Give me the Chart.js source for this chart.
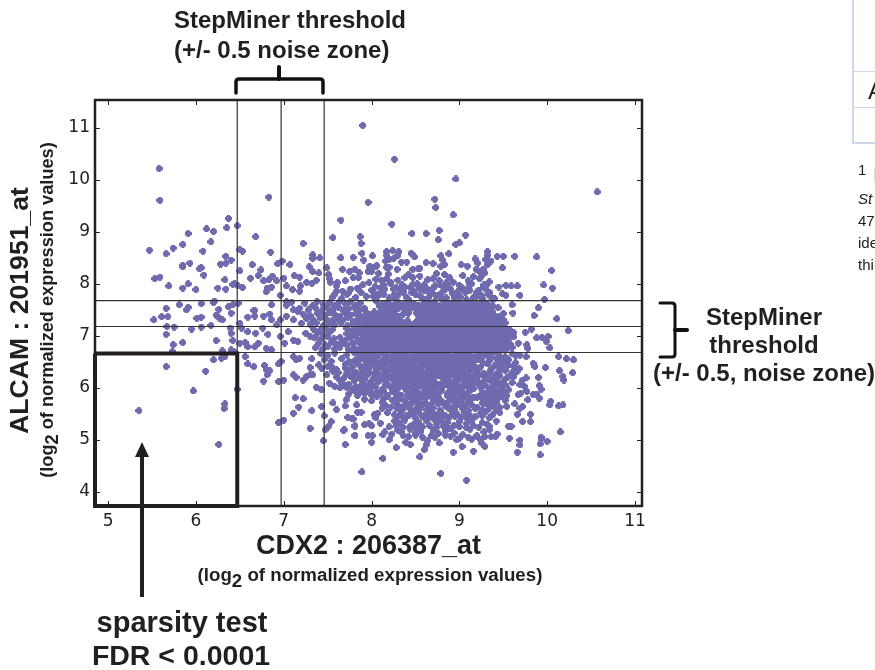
<!DOCTYPE html>
<html>
<head>
<meta charset="utf-8">
<title>CDX2 vs ALCAM</title>
<script src="https://cdn.jsdelivr.net/npm/chart.js@4"></script>
<style>
  html, body { margin: 0; padding: 0; background: #fff; }
  #page { position: relative; width: 875px; height: 670px; overflow: hidden; }
  #plot { position: absolute; left: 0; top: 0; }
  #marks { position: absolute; left: 0; top: 0; }
  .note { position: absolute; font-family: "Liberation Sans", Arial, sans-serif; font-weight: bold; color: #231f20; white-space: nowrap; }
  .rot { transform: rotate(-90deg); text-align: center; }
  .sub2 { position: relative; top: 0.3em; }
  .rule { position: absolute; background: #cfd8e8; }
  .cut { position: absolute; font-family: "Liberation Sans", Arial, sans-serif; color: #222; white-space: nowrap; }
</style>
</head>
<body>
<div id="page">
  <canvas id="plot" width="875" height="670"></canvas>

  <svg id="marks" width="875" height="670">
    <g fill="none" stroke="#111" stroke-linejoin="round" stroke-linecap="round">
      <path d="M236 93 V82 Q236 79 239 79 H320 Q323 79 323 82 V93" stroke-width="3.5"/>
      <path d="M279 79 V67" stroke-width="4"/>
      <path d="M660 303 H672 Q675 303 675 306 V354 Q675 357 672 357 H660" stroke-width="3"/>
      <path d="M675 330 H687" stroke-width="4"/>
    </g>
    <path d="M142 597 V455" stroke="#231f20" stroke-width="4" fill="none"/>
    <path d="M142 442 L149 457 H135 Z" fill="#231f20"/>
  </svg>

  <div class="note" style="left:174px;top:8px;font-size:24px;line-height:24px">StepMiner threshold</div>
  <div class="note" style="left:174px;top:38px;font-size:24px;line-height:24px">(+/- 0.5 noise zone)</div>

  <div class="note" style="left:644px;top:305px;width:240px;text-align:center;font-size:24px;line-height:24px">StepMiner</div>
  <div class="note" style="left:644px;top:333px;width:240px;text-align:center;font-size:24px;line-height:24px">threshold</div>
  <div class="note" style="left:644px;top:361px;width:240px;text-align:center;font-size:24px;line-height:24px">(+/- 0.5, noise zone)</div>

  <div class="note rot" style="left:-131px;top:297px;width:300px;height:27px;font-size:26.6px;line-height:27px">ALCAM : 201951_at</div>
  <div class="note rot" style="left:-153px;top:301px;width:400px;height:18px;font-size:18.2px;line-height:18px">(log<span class="sub2">2</span> of normalized expression values)</div>
  <div class="note" style="left:170px;top:565px;width:400px;text-align:center;font-size:18.7px;line-height:19px">(log<span class="sub2">2</span> of normalized expression values)</div>

  <div class="note" style="left:32px;top:608px;width:300px;text-align:center;font-size:29px;line-height:29px">sparsity test</div>
  <div class="note" style="left:31px;top:641px;width:300px;text-align:center;font-size:28.5px;line-height:29px">FDR &lt; 0.0001</div>

  <!-- cut-off page table and footnote on the right edge -->
  <div class="rule" style="left:852px;top:0;width:2px;height:143px"></div>
  <div class="rule" style="left:852px;top:71px;width:23px;height:1px"></div>
  <div class="rule" style="left:852px;top:107px;width:23px;height:1px"></div>
  <div class="rule" style="left:852px;top:142px;width:23px;height:2px"></div>
  <div class="cut" style="left:868px;top:79px;font-size:24px;line-height:24px">A</div>
  <div class="cut" style="left:858px;top:162px;font-size:15px;line-height:15px">1</div>
  <div class="rule" style="left:874px;top:168px;width:1px;height:14px;background:#ddd"></div>
  <div class="cut" style="left:858px;top:191px;font-size:15px;line-height:15px;font-style:italic">St</div>
  <div class="cut" style="left:858px;top:213px;font-size:15px;line-height:15px">47</div>
  <div class="cut" style="left:858px;top:235px;font-size:15px;line-height:15px">ide</div>
  <div class="cut" style="left:858px;top:257px;font-size:15px;line-height:15px">thi</div>
</div>

<script>
'use strict';

var xTicks = [5, 6, 7, 8, 9, 10, 11];
var yTicks = [4, 5, 6, 7, 8, 9, 10, 11];
var xMin = 4.85, xMax = 11.08;
var yMin = 3.725, yMax = 11.54;

var thresholdCdx2 = [6.47, 6.97, 7.46];
var thresholdAlcam = [7.68, 7.18, 6.68];

var sparsityBoxCdx2 = [4.85, 6.47, 6.47, 4.85, 4.85];
var sparsityBoxAlcam = [6.66, 6.66, 3.725, 3.725, 6.66];

// points that can be told apart in the picture
var outlierCdx2 = [
  7.90,5.58,5.59,6.83,7.96,6.37,7.65,6.47,6.35,6.12,
  6.20,5.91,6.68,7.56,7.87,6.17,7.88,7.22,5.85,5.74,
  5.47,6.50,6.53,6.08,6.85,5.66,7.89,7.33,8.01,6.34,
  7.91,7.41,7.33,7.65,7.79,6.40,6.34,6.28,5.93,5.85,
  5.85,6.64,6.98,6.93,7.07,7.29,7.49,6.04,6.06,6.74,
  6.50,6.09,7.33,7.40,7.67,7.75,7.81,8.00,8.00,8.06,
  5.59,5.53,6.62,6.33,6.71,6.77,6.83,6.87,7.00,6.92,
  7.12,7.18,7.03,5.69,5.91,6.42,6.44,6.48,6.53,5.85,
  6.00,6.25,6.34,6.81,6.86,6.80,7.10,6.96,7.19,7.18,
  7.26,7.32,7.37,7.51,7.52,7.53,7.60,7.61,7.67,7.76,
  7.86,7.85,7.85,8.26,8.96,10.57,8.72,8.73,8.93,8.23,
  8.46,8.62,8.77,8.76,9.07,8.96,9.00,8.88,8.17,8.17,
  8.24,8.31,8.30,8.25,8.45,8.49,8.16,8.20,8.34,8.40,
  8.62,8.70,8.79,8.81,8.83,8.79,7.98,7.96,8.05,7.98,
  8.17,8.20,8.29,8.47,8.55,8.53,9.02,9.09,9.18,9.21,
  9.32,9.32,9.30,9.36,9.32,9.43,9.50,9.63,9.88,9.49,
  10.05,9.19,9.23,9.27,9.29,9.25,9.23,9.96,10.06,9.53,
  9.59,9.66,9.45,9.69,9.49,9.53,9.97,9.38,9.60,9.90,
  9.85,10.11,9.61,9.50,10.24,9.82,9.75,9.88,9.94,10.01,
  9.99,10.03,9.78,9.77,9.67,10.13,10.22,10.30,10.29,10.14,
  10.18,10.19,9.98,9.90,9.91,9.84,9.86,9.68,9.76,9.69,
  10.03,10.04,10.13,10.18,10.15,9.93,9.91,9.88,9.84,9.76,
  9.72,9.69,9.74,9.70,9.77,9.78,9.67,9.81,9.81,9.72,
  9.66,9.72,9.63,9.69,9.59,9.56,9.57,9.93,10.00,9.92,
  9.93,9.92,9.69,9.69,9.66,9.08,8.79,7.89,8.13,8.55,
  8.93,9.16,8.28,8.39,8.44,8.60,8.62,8.64,8.77,9.03,
  9.00,8.97,9.14,9.20,9.29,9.29,9.25,9.24,9.41,9.43,
  9.34,7.81,7.96,8.01,8.00,8.13,8.15,8.20,8.23,7.92,
  7.97,8.00,7.81,7.78,8.10,7.84,7.88,7.83,8.03,8.07,
  8.05,8.12,5.52,5.61,5.68,5.66,5.81,5.89,5.91,6.06,
  6.20,6.26,6.40,6.37,6.42,6.48,6.01,6.06,5.67,5.75,
  5.95,6.06,6.17,5.66,6.23,6.27,6.30,6.39,6.40,6.42,
  6.23,5.85,5.74,5.73,6.30,6.40,6.43,5.66,6.20,6.29,
  6.33,6.11,5.97,6.47,6.33,6.32,5.35,6.26,6.50,6.52,
  6.59,6.66,6.67,6.59,6.68,6.77,6.84,6.76,6.82,6.86,
  6.92,6.96,7.03,7.11,7.18,7.03,6.50,6.56,6.59,6.67,
  6.71,6.80,6.86,6.96,7.01,7.05,7.11,7.16,7.25,7.30,
  7.20,7.11,6.56,6.59,6.66,6.78,6.80,6.84,6.81,6.77,
  6.94,6.97,6.94,7.00,7.11,7.14,7.18,7.11,7.14,7.22,
  7.26,7.30,7.33,7.30,7.32,7.37,7.43,7.13,7.22,7.17,
  7.11,7.32,7.43,6.94,7.00,7.30,7.46,7.45,7.70,7.47,
  7.51,7.54,7.69,7.81,7.73,7.79,7.81,7.68,7.54,7.60,
  7.52,7.58,7.64,7.56,7.60,7.70,7.71,7.49,7.43,6.21,
  6.86,6.67,7.03,7.09,7.16
];
var outlierAlcam = [
  11.05,10.22,9.61,9.67,9.57,9.26,9.23,9.12,9.08,9.06,
  9.01,8.97,8.91,8.89,8.91,8.81,8.78,8.78,8.76,8.69,
  8.65,8.66,8.63,8.63,8.61,8.58,8.59,8.56,8.54,8.53,
  8.46,8.50,8.49,8.50,8.51,8.46,8.40,8.38,8.40,8.36,
  8.33,8.37,8.44,8.39,8.37,8.33,8.31,8.29,8.31,8.27,
  8.25,8.17,8.24,8.21,8.28,8.24,8.28,8.31,8.24,8.35,
  8.13,8.10,8.11,8.08,8.16,8.06,8.08,8.15,8.11,8.06,
  8.16,8.13,7.96,7.96,8.00,7.99,8.00,7.96,7.93,7.92,
  7.89,7.92,7.90,7.92,7.94,7.85,7.89,7.78,7.96,7.86,
  8.03,8.01,8.07,8.18,8.10,8.03,7.96,8.03,7.86,7.90,
  8.21,8.12,7.89,10.40,10.02,9.77,9.63,9.47,9.33,9.15,
  8.97,8.97,9.03,8.85,8.94,8.76,8.79,8.58,8.62,8.55,
  8.64,8.62,8.55,8.49,8.59,8.52,8.44,8.47,8.42,8.42,
  8.41,8.39,8.54,8.46,8.37,8.34,8.34,8.24,8.34,8.28,
  8.32,8.32,8.28,8.28,8.30,8.29,8.37,8.34,8.48,8.40,
  8.62,8.55,8.47,8.44,8.37,8.53,8.53,8.53,8.52,8.31,
  8.26,8.28,8.24,8.28,8.21,8.15,8.10,7.98,7.92,7.97,
  7.96,7.96,7.94,7.78,7.81,7.78,7.70,7.70,7.60,7.54,
  7.39,7.33,7.44,7.43,7.10,7.13,7.07,6.96,6.97,6.99,
  6.89,6.77,6.76,6.83,6.86,6.60,6.56,6.54,6.29,6.33,
  6.22,6.15,6.39,6.20,6.04,6.47,6.41,6.37,6.60,6.63,
  5.67,5.74,5.65,5.67,5.15,5.97,5.80,5.88,5.87,6.19,
  6.15,6.06,6.03,5.90,5.93,5.77,5.87,5.49,5.35,5.35,
  5.49,5.64,5.69,5.61,5.26,5.26,5.03,5.01,4.97,4.92,
  5.05,4.71,4.99,4.90,4.76,4.22,4.35,4.38,4.64,4.67,
  4.76,4.78,4.85,4.95,4.91,4.81,4.90,4.98,4.94,4.87,
  5.03,5.00,5.01,5.06,5.06,4.87,4.94,5.00,5.06,5.11,
  5.19,5.08,5.08,5.08,4.95,5.10,5.15,5.00,5.11,5.29,
  5.31,5.27,5.26,5.40,5.32,5.53,5.53,5.67,5.48,5.51,
  5.42,5.61,7.31,7.37,7.37,7.53,7.60,7.50,7.55,7.62,
  7.64,7.51,7.44,7.56,7.60,7.63,7.34,7.36,7.18,7.17,
  7.13,7.17,7.20,7.03,7.40,7.34,7.31,7.15,7.05,6.91,
  6.91,6.87,6.83,6.70,6.71,6.73,6.70,6.41,6.54,6.57,
  6.60,6.32,5.94,5.97,5.69,5.60,5.56,4.91,7.24,7.15,
  7.36,7.49,7.38,7.08,7.05,7.38,7.42,7.15,7.03,7.31,
  7.21,7.31,7.38,7.50,7.53,7.66,6.86,6.87,6.79,6.79,
  6.86,6.76,6.73,6.99,6.86,7.08,6.92,6.89,7.05,6.99,
  7.24,7.31,6.60,6.46,6.41,6.43,6.35,6.33,6.25,6.13,
  6.46,6.51,6.12,6.15,6.60,6.54,6.57,6.25,6.20,6.15,
  6.22,6.25,6.25,6.39,6.56,6.01,5.96,5.81,5.79,5.63,
  5.51,5.56,5.64,5.33,5.38,5.22,5.46,4.98,4.91,5.19,
  5.26,5.35,5.19,5.27,5.43,5.40,5.08,5.18,6.41,6.35,
  6.09,6.03,6.00,5.71,5.58,5.65,5.77,6.25,6.38,7.67,
  7.60,7.49,7.59,7.65,7.47
];

// dense cloud, estimated band by band from top to bottom
var upperCdx2 = [
  8.05,8.11,8.17,8.22,8.30,8.38,8.47,8.64,8.70,8.77,8.89,8.93,9.10,9.14,9.31,8.08,8.19,8.42,8.55,8.74,8.83,9.04,9.16,9.34,7.70,7.79,
  7.55,7.60,7.66,7.72,7.76,7.82,7.88,7.94,8.00,8.06,8.10,8.14,8.20,8.25,8.30,8.36,8.40,8.44,8.50,8.56,8.60,8.65,8.70,8.76,8.80,8.85,8.90,8.96,9.01,9.05,9.10,9.16,9.20,9.25,9.30,9.36,9.40,
  7.58,7.74,7.84,8.03,8.12,8.26,8.33,8.46,8.53,8.68,8.82,8.92,9.07,9.21,9.27,9.34,8.14,8.35,8.52,8.60,8.72,8.85,9.00,9.12,
  8.02,8.09,8.27,8.33,8.42,8.48,8.58,8.66,8.73,8.80,8.87,8.94,9.02,9.08,9.18,9.26,9.33,7.90,7.97,8.04,8.15,8.22,8.28,8.38,8.47,8.55,8.62,8.68,8.78,8.84,8.98,9.03,9.12,9.22,9.28
];
var upperAlcam = [
  8.09,8.07,8.10,8.03,8.07,8.12,8.12,8.08,8.10,8.06,8.12,8.03,8.06,8.00,7.98,8.20,8.19,8.18,8.15,8.20,8.18,8.16,8.14,8.04,8.06,8.12,
  7.74,7.86,7.72,7.80,7.90,7.74,7.83,7.76,7.88,7.75,7.92,7.80,7.73,7.90,7.78,7.84,7.74,7.93,7.80,7.76,7.87,7.74,7.92,7.78,7.83,7.73,7.90,7.80,7.75,7.88,7.92,7.74,7.84,7.78,7.90,7.75,7.72,
  7.80,7.83,7.92,7.83,7.86,7.80,7.92,7.83,7.96,7.84,7.94,7.82,7.84,7.84,7.95,7.84,7.98,7.98,8.00,7.98,7.96,8.02,7.97,8.00,
  7.76,7.79,7.72,7.86,7.70,7.86,7.72,7.83,7.78,7.72,7.96,7.74,7.94,7.70,7.74,7.72,7.80,7.98,8.02,7.95,7.90,8.00,7.93,7.94,7.99,7.90,7.92,7.88,7.98,7.90,7.85,7.91,7.88,7.88,7.98
];

var row76Cdx2 = [7.24,7.33,7.38,7.45,7.52,7.58,7.63,7.70,7.76,7.82,7.87,8.06,8.12,8.18,8.24,8.30,8.36,8.42,8.48,8.54,8.60,8.66,8.72,8.78,8.84,8.90,8.96,9.02,9.08,9.14,9.20,9.26,9.32,9.38];
var row76Alcam = [7.63,7.58,7.66,7.60,7.64,7.58,7.65,7.61,7.66,7.59,7.63,7.66,7.60,7.64,7.58,7.65,7.60,7.66,7.62,7.58,7.65,7.60,7.66,7.58,7.64,7.60,7.66,7.62,7.58,7.64,7.60,7.66,7.61,7.58];

var row75Cdx2 = [7.28,7.36,7.43,7.50,7.56,7.62,7.68,7.74,7.80,7.86,7.92,8.12,8.18,8.24,8.30,8.36,8.42,8.48,8.54,8.60,8.66,8.72,8.78,8.84,8.90,8.96,9.02,9.08,9.14,9.20,9.26,9.32,9.38,9.44];
var row75Alcam = [7.50,7.54,7.48,7.53,7.50,7.55,7.48,7.52,7.55,7.49,7.53,7.50,7.55,7.48,7.52,7.54,7.49,7.55,7.50,7.47,7.53,7.50,7.55,7.49,7.52,7.47,7.54,7.50,7.55,7.48,7.53,7.50,7.46,7.54];

var row74Cdx2 = [7.22,7.30,7.38,7.46,7.52,7.58,7.64,7.70,7.76,7.82,7.88,7.94,8.00,8.06,8.12,8.18,8.24,8.30,8.36,8.42,8.54,8.60,8.66,8.72,8.78,8.84,8.90,8.96,9.02,9.08,9.14,9.20,9.26,9.32,9.38,9.44];
var row74Alcam = [7.42,7.39,7.44,7.40,7.45,7.41,7.38,7.44,7.40,7.43,7.38,7.45,7.41,7.39,7.44,7.40,7.45,7.38,7.42,7.44,7.39,7.45,7.41,7.38,7.44,7.40,7.43,7.38,7.45,7.41,7.44,7.39,7.42,7.45,7.40,7.38];

var row73Cdx2 = [7.26,7.34,7.42,7.49,7.55,7.61,7.67,7.73,7.79,7.85,7.91,7.97,8.03,8.09,8.15,8.21,8.27,8.33,8.54,8.60,8.66,8.72,8.78,8.84,8.90,8.96,9.02,9.08,9.14,9.20,9.26,9.32,9.38,9.44,9.50];
var row73Alcam = [7.33,7.30,7.35,7.31,7.29,7.34,7.30,7.35,7.28,7.33,7.30,7.35,7.31,7.28,7.34,7.30,7.35,7.29,7.32,7.35,7.30,7.28,7.34,7.31,7.35,7.29,7.33,7.30,7.35,7.28,7.32,7.34,7.30,7.35,7.31];

var row72Cdx2 = [7.30,7.37,7.45,7.52,7.58,7.65,7.72,7.78,7.84,7.90,7.96,8.02,8.08,8.14,8.20,8.26,8.32,8.38,8.44,8.50,8.56,8.62,8.68,8.74,8.80,8.86,8.92,8.98,9.04,9.10,9.16,9.22,9.28,9.34,9.40,9.46,9.52];
var row72Alcam = [7.22,7.25,7.20,7.24,7.21,7.25,7.19,7.23,7.26,7.20,7.24,7.21,7.26,7.19,7.23,7.25,7.20,7.24,7.21,7.26,7.19,7.23,7.25,7.20,7.24,7.21,7.26,7.19,7.23,7.25,7.20,7.24,7.21,7.26,7.19,7.23,7.25];

var row71Cdx2 = [7.34,7.41,7.48,7.55,7.72,7.78,7.84,7.90,7.96,8.02,8.08,8.14,8.20,8.26,8.32,8.38,8.44,8.50,8.56,8.62,8.68,8.74,8.80,8.86,8.92,8.98,9.04,9.10,9.16,9.22,9.28,9.34,9.40,9.46,9.52,9.57];
var row71Alcam = [7.13,7.10,7.15,7.12,7.14,7.10,7.16,7.12,7.09,7.15,7.11,7.14,7.10,7.16,7.12,7.09,7.15,7.11,7.14,7.10,7.16,7.12,7.09,7.15,7.11,7.14,7.10,7.16,7.12,7.09,7.15,7.11,7.14,7.10,7.16,7.12];

var row70Cdx2 = [7.38,7.45,7.52,7.72,7.78,7.84,7.90,7.96,8.02,8.08,8.14,8.20,8.26,8.32,8.38,8.44,8.50,8.56,8.62,8.68,8.74,8.80,8.86,8.92,8.98,9.04,9.10,9.16,9.22,9.28,9.34,9.40,9.46,9.52,9.58,9.62];
var row70Alcam = [7.05,7.02,7.07,7.04,7.01,7.06,7.03,7.07,7.02,7.05,7.01,7.06,7.03,7.07,7.02,7.05,7.01,7.06,7.03,7.07,7.02,7.05,7.01,7.06,7.03,7.07,7.02,7.05,7.01,7.06,7.03,7.07,7.02,7.05,7.01,7.06];

var row69Cdx2 = [7.35,7.42,7.50,7.57,7.64,7.70,7.76,7.82,7.88,7.94,8.00,8.06,8.12,8.18,8.24,8.30,8.36,8.42,8.48,8.54,8.60,8.66,8.72,8.78,8.84,8.90,8.96,9.02,9.08,9.14,9.20,9.26,9.32,9.38,9.44,9.50,9.56,9.62];
var row69Alcam = [6.96,6.93,6.98,6.94,6.97,6.92,6.96,6.99,6.93,6.97,6.94,6.98,6.92,6.96,6.93,6.99,6.94,6.97,6.92,6.96,6.98,6.93,6.97,6.94,6.99,6.92,6.96,6.93,6.98,6.94,6.97,6.92,6.96,6.99,6.93,6.97,6.94,6.98];

var row68Cdx2 = [7.40,7.47,7.54,7.60,7.66,7.72,7.78,7.84,7.90,7.96,8.02,8.08,8.14,8.20,8.26,8.32,8.38,8.44,8.50,8.56,8.62,8.68,8.74,8.80,8.86,8.92,8.98,9.04,9.10,9.16,9.22,9.28,9.34,9.40,9.46,9.52,9.58];
var row68Alcam = [6.86,6.83,6.88,6.84,6.87,6.82,6.86,6.89,6.83,6.87,6.84,6.88,6.82,6.86,6.83,6.89,6.84,6.87,6.82,6.86,6.88,6.83,6.87,6.84,6.89,6.82,6.86,6.83,6.88,6.84,6.87,6.82,6.86,6.89,6.83,6.87,6.84];

var row67Cdx2 = [7.36,7.44,7.50,7.58,7.64,7.74,7.80,7.86,7.92,7.98,8.04,8.10,8.16,8.22,8.28,8.34,8.40,8.46,8.52,8.58,8.64,8.70,8.76,8.82,8.88,8.94,9.00,9.06,9.12,9.18,9.24,9.30,9.36,9.42,9.48,9.54,9.60];
var row67Alcam = [6.77,6.74,6.79,6.75,6.78,6.73,6.77,6.74,6.79,6.75,6.78,6.73,6.77,6.80,6.74,6.78,6.75,6.79,6.73,6.77,6.74,6.80,6.75,6.78,6.73,6.77,6.79,6.74,6.78,6.75,6.80,6.73,6.77,6.74,6.79,6.75,6.78];

var row66Cdx2 = [7.42,7.50,7.58,7.72,7.80,7.86,7.92,7.98,8.04,8.10,8.16,8.22,8.28,8.34,8.40,8.46,8.52,8.58,8.64,8.70,8.76,8.82,8.88,8.94,9.00,9.06,9.12,9.18,9.24,9.32,9.38,9.44,9.52,9.60,9.64];
var row66Alcam = [6.66,6.62,6.67,6.63,6.68,6.64,6.60,6.66,6.62,6.68,6.64,6.60,6.67,6.63,6.68,6.61,6.65,6.69,6.62,6.66,6.60,6.68,6.64,6.61,6.67,6.63,6.68,6.60,6.65,6.62,6.68,6.64,6.60,6.66,6.62];

var row65Cdx2 = [7.46,7.54,7.66,7.74,7.82,7.88,7.94,8.00,8.06,8.14,8.20,8.26,8.32,8.38,8.44,8.50,8.56,8.62,8.68,8.74,8.80,8.86,8.92,8.98,9.04,9.10,9.16,9.22,9.34,9.42,9.50,9.56,9.64];
var row65Alcam = [6.54,6.51,6.56,6.50,6.54,6.57,6.51,6.55,6.50,6.56,6.52,6.57,6.50,6.55,6.51,6.56,6.53,6.50,6.57,6.52,6.55,6.50,6.56,6.51,6.57,6.53,6.50,6.55,6.52,6.56,6.50,6.54,6.48];

var row64Cdx2 = [7.40,7.50,7.70,7.78,7.86,7.92,8.00,8.08,8.14,8.22,8.28,8.34,8.42,8.48,8.54,8.60,8.66,8.72,8.78,8.84,8.90,8.96,9.02,9.08,9.14,9.24,9.32,9.40,9.48,9.56,9.62];
var row64Alcam = [6.44,6.41,6.45,6.40,6.44,6.41,6.46,6.42,6.45,6.40,6.44,6.41,6.46,6.42,6.39,6.45,6.41,6.44,6.40,6.46,6.42,6.39,6.45,6.41,6.44,6.40,6.46,6.42,6.39,6.44,6.41];

var row63Cdx2 = [7.56,7.62,7.74,7.82,7.90,7.98,8.06,8.16,8.24,8.30,8.36,8.44,8.50,8.56,8.62,8.68,8.74,8.80,8.86,8.92,8.98,9.04,9.10,9.20,9.28,9.36,9.44,9.52,9.60,9.66];
var row63Alcam = [6.32,6.29,6.33,6.30,6.34,6.29,6.33,6.30,6.35,6.31,6.28,6.34,6.30,6.33,6.29,6.35,6.31,6.28,6.34,6.30,6.33,6.29,6.35,6.31,6.28,6.34,6.30,6.33,6.29,6.32];

var row62Cdx2 = [7.60,7.68,7.76,7.86,7.94,8.02,8.12,8.20,8.28,8.36,8.42,8.50,8.56,8.62,8.68,8.74,8.80,8.86,8.94,9.00,9.08,9.14,9.22,9.30,9.38,9.46,9.54,9.62];
var row62Alcam = [6.21,6.18,6.22,6.19,6.23,6.18,6.22,6.19,6.24,6.20,6.17,6.23,6.19,6.22,6.18,6.24,6.20,6.17,6.23,6.19,6.22,6.18,6.24,6.20,6.17,6.23,6.19,6.22];

var row61Cdx2 = [7.66,7.74,7.90,7.98,8.08,8.18,8.26,8.32,8.40,8.46,8.54,8.60,8.66,8.72,8.78,8.84,8.92,8.98,9.06,9.12,9.18,9.26,9.36,9.44,9.52,9.60];
var row61Alcam = [6.10,6.07,6.11,6.08,6.12,6.07,6.11,6.08,6.13,6.09,6.06,6.12,6.08,6.11,6.07,6.13,6.09,6.06,6.12,6.08,6.11,6.07,6.13,6.09,6.06,6.10];

var row60Cdx2 = [7.72,7.78,7.86,7.94,8.04,8.12,8.22,8.30,8.36,8.44,8.50,8.58,8.64,8.72,8.80,8.88,8.94,9.02,9.10,9.16,9.24,9.34,9.40,9.48,9.56];
var row60Alcam = [6.00,5.97,6.01,5.98,6.02,5.97,6.01,5.98,6.03,5.99,5.96,6.02,5.98,6.01,5.97,6.03,5.99,5.96,6.02,5.98,6.01,5.97,6.03,5.99,5.96];

var row59Cdx2 = [7.74,7.84,7.92,8.00,8.10,8.18,8.28,8.34,8.42,8.48,8.56,8.66,8.74,8.86,8.92,9.00,9.08,9.22,9.30,9.38,9.46,9.54];
var row59Alcam = [5.88,5.85,5.89,5.86,5.90,5.85,5.89,5.86,5.91,5.87,5.84,5.90,5.86,5.89,5.85,5.91,5.87,5.84,5.90,5.86,5.89,5.85];

var row58Cdx2 = [7.92,8.00,8.14,8.24,8.32,8.38,8.46,8.54,8.62,8.70,8.80,8.90,8.96,9.04,9.12,9.20,9.28,9.36,9.44,9.52];
var row58Alcam = [5.78,5.75,5.79,5.76,5.80,5.75,5.79,5.76,5.81,5.77,5.74,5.80,5.76,5.79,5.75,5.81,5.77,5.74,5.80,5.76];

var row57Cdx2 = [8.16,8.22,8.30,8.36,8.44,8.52,8.58,8.66,8.76,8.84,8.92,8.98,9.06,9.14,9.20,9.30,9.38,9.46,9.54];
var row57Alcam = [5.66,5.63,5.67,5.64,5.68,5.63,5.67,5.64,5.69,5.65,5.62,5.68,5.64,5.67,5.63,5.69,5.65,5.62,5.64];

var row55Cdx2 = [8.18,8.26,8.34,8.40,8.46,8.54,8.60,8.66,8.72,8.78,8.84,8.92,8.98,9.06,9.12,9.24,9.30,9.38,9.46];
var row55Alcam = [5.52,5.48,5.54,5.46,5.50,5.53,5.47,5.52,5.49,5.54,5.46,5.51,5.48,5.53,5.47,5.51,5.54,5.48,5.52];

var row53Cdx2 = [8.26,8.32,8.38,8.48,8.54,8.62,8.74,8.80,8.86,8.94,9.00,9.08,9.14,9.26,9.32,9.42];
var row53Alcam = [5.36,5.32,5.38,5.30,5.34,5.37,5.31,5.36,5.33,5.28,5.35,5.31,5.37,5.33,5.29,5.36];

var row51Cdx2 = [8.30,8.34,8.44,8.50,8.56,8.70,8.76,8.84,8.88,8.94,9.12,9.28];
var row51Alcam = [5.18,5.14,5.20,5.12,5.16,5.18,5.12,5.17,5.22,5.13,5.20,5.15];

// points between the rows above, where the cloud is nearly solid
var core1Cdx2 = [8.09,8.15,8.21,8.27,8.33,8.39,8.45,8.51,8.57,8.63,8.69,8.75,8.81,8.87,8.93,8.99,9.05,9.11,9.17,9.23,9.29,9.35,
                 8.03,8.09,8.15,8.21,8.27,8.39,8.51,8.57,8.63,8.69,8.75,8.81,8.87,8.93,8.99,9.05,9.11,9.17,9.23,9.29,9.35];
var core1Alcam = [7.57,7.55,7.59,7.56,7.58,7.55,7.57,7.59,7.56,7.54,7.58,7.56,7.54,7.59,7.56,7.58,7.55,7.57,7.54,7.58,7.56,7.55,
                  7.46,7.44,7.47,7.45,7.49,7.45,7.44,7.47,7.49,7.45,7.47,7.44,7.48,7.46,7.49,7.45,7.47,7.44,7.48,7.46,7.49];
var core2Cdx2 = [7.94,8.00,8.06,8.12,8.18,8.24,8.30,8.57,8.63,8.69,8.75,8.81,8.87,8.93,8.99,9.05,9.11,9.17,9.23,9.29,9.35,9.41,
                 7.93,7.99,8.05,8.11,8.17,8.23,8.29,8.35,8.41,8.59,8.65,8.71,8.77,8.83,8.89,8.95,9.01,9.07,9.13,9.19,9.25,9.31,9.37,9.43];
var core2Alcam = [7.36,7.39,7.35,7.37,7.39,7.36,7.38,7.36,7.39,7.35,7.38,7.36,7.39,7.37,7.35,7.38,7.36,7.39,7.35,7.37,7.39,7.36,
                  7.30,7.27,7.29,7.26,7.28,7.30,7.27,7.26,7.29,7.29,7.26,7.28,7.30,7.27,7.29,7.26,7.28,7.30,7.27,7.29,7.26,7.28,7.30,7.27];
var core3Cdx2 = [7.93,7.99,8.05,8.11,8.17,8.23,8.29,8.35,8.41,8.47,8.53,8.59,8.65,8.71,8.77,8.83,8.89,8.95,9.01,9.07,9.13,9.19,9.25,9.31,9.37,9.43,9.49,
                 7.93,7.99,8.05,8.11,8.17,8.23,8.29,8.35,8.41,8.47,8.53,8.59,8.65,8.71,8.77,8.83,8.89,8.95,9.01,9.07,9.13,9.19,9.25,9.31,9.37,9.43,9.49];
var core3Alcam = [7.17,7.15,7.19,7.16,7.18,7.20,7.17,7.15,7.19,7.16,7.18,7.20,7.17,7.15,7.19,7.16,7.18,7.20,7.17,7.15,7.19,7.16,7.18,7.20,7.17,7.15,7.19,
                  7.07,7.10,7.06,7.09,7.07,7.10,7.06,7.08,7.09,7.07,7.10,7.06,7.08,7.09,7.07,7.10,7.06,7.08,7.09,7.07,7.10,7.06,7.08,7.09,7.07,7.10,7.06];
var core4Cdx2 = [7.93,7.99,8.05,8.11,8.17,8.23,8.29,8.35,8.41,8.47,8.53,8.59,8.65,8.71,8.77,8.83,8.89,8.95,9.01,9.07,9.13,9.19,9.25,9.31,9.37,9.43,9.49,
                 7.91,7.97,8.03,8.09,8.15,8.21,8.27,8.33,8.39,8.45,8.51,8.57,8.63,8.69,8.75,8.81,8.87,8.93,8.99,9.05,9.11,9.17,9.23,9.29,9.35,9.41,9.47];
var core4Alcam = [6.99,7.02,6.98,7.00,7.02,6.99,7.01,6.98,7.02,7.00,6.98,7.01,6.99,7.02,6.98,7.00,7.02,6.99,7.01,6.98,7.02,7.00,6.98,7.01,6.99,7.02,6.98,
                  6.90,6.93,6.89,6.91,6.93,6.90,6.92,6.89,6.93,6.91,6.89,6.92,6.90,6.93,6.89,6.91,6.93,6.90,6.92,6.89,6.93,6.91,6.89,6.92,6.90,6.93,6.89];
var core5Cdx2 = [7.89,7.95,8.01,8.07,8.13,8.19,8.25,8.31,8.37,8.43,8.49,8.55,8.61,8.67,8.73,8.79,8.85,8.91,8.97,9.03,9.09,9.15,9.21,9.27,9.33,9.39,9.45,
                 7.89,7.95,8.01,8.07,8.13,8.19,8.25,8.31,8.37,8.43,8.49,8.55,8.61,8.67,8.73,8.79,8.85,8.91,8.97,9.03,9.09,9.15,9.21,9.27,9.35,9.41,9.49];
var core5Alcam = [6.80,6.83,6.79,6.81,6.83,6.80,6.82,6.79,6.83,6.81,6.79,6.82,6.80,6.83,6.79,6.81,6.83,6.80,6.82,6.79,6.83,6.81,6.79,6.82,6.80,6.83,6.79,
                  6.72,6.70,6.73,6.69,6.71,6.73,6.70,6.72,6.69,6.73,6.71,6.69,6.72,6.70,6.73,6.69,6.71,6.73,6.70,6.72,6.69,6.73,6.71,6.69,6.72,6.70,6.73];
var core6Cdx2 = [7.89,7.95,8.01,8.07,8.17,8.23,8.29,8.35,8.41,8.47,8.53,8.59,8.65,8.71,8.77,8.83,8.89,8.95,9.01,9.07,9.13,9.19,9.27,9.35,9.47,
                 7.76,7.84,7.97,8.03,8.11,8.17,8.23,8.29,8.35,8.41,8.47,8.53,8.59,8.65,8.71,8.77,8.83,8.89,8.95,9.01,9.07,9.13,9.27,9.45,9.53];
var core6Alcam = [6.57,6.60,6.58,6.61,6.57,6.59,6.61,6.58,6.60,6.57,6.61,6.59,6.57,6.60,6.58,6.61,6.57,6.59,6.61,6.58,6.60,6.57,6.61,6.59,6.57,
                  6.49,6.47,6.50,6.48,6.49,6.47,6.50,6.48,6.46,6.49,6.47,6.50,6.48,6.46,6.49,6.47,6.50,6.48,6.46,6.49,6.47,6.50,6.48,6.46,6.49];

// lower half of the cloud, less solid
var lower1Cdx2 = [7.70,7.88,7.96,8.04,8.12,8.20,8.27,8.33,8.39,8.45,8.51,8.57,8.65,8.71,8.77,8.83,8.89,8.95,9.01,9.07,9.13,9.19,9.37,9.45,9.53,
                  7.72,7.80,7.90,8.04,8.10,8.16,8.24,8.32,8.40,8.46,8.53,8.59,8.65,8.71,8.77,8.83,8.90,8.97,9.05,9.11,9.18,9.26,9.34,9.42,9.58];
var lower1Alcam = [6.38,6.39,6.37,6.40,6.38,6.36,6.39,6.37,6.40,6.38,6.36,6.39,6.37,6.40,6.38,6.36,6.39,6.37,6.40,6.38,6.36,6.39,6.37,6.40,6.38,
                   6.27,6.25,6.28,6.26,6.24,6.27,6.25,6.28,6.26,6.24,6.27,6.25,6.28,6.26,6.24,6.27,6.25,6.28,6.26,6.24,6.27,6.25,6.28,6.26,6.24];
var lower2Cdx2 = [7.64,7.80,7.92,8.00,8.08,8.16,8.24,8.32,8.38,8.46,8.52,8.59,8.65,8.71,8.83,8.89,8.97,9.04,9.12,9.20,9.28,9.34,9.42,9.50,
                  7.70,7.82,7.90,8.00,8.16,8.26,8.34,8.40,8.48,8.54,8.60,8.68,8.76,8.84,8.90,8.98,9.06,9.14,9.22,9.30,9.38,9.46];
var lower2Alcam = [6.15,6.14,6.16,6.13,6.15,6.13,6.16,6.14,6.12,6.15,6.13,6.16,6.14,6.12,6.15,6.13,6.16,6.14,6.12,6.15,6.13,6.16,6.14,6.12,
                   6.05,6.03,6.06,6.04,6.06,6.03,6.05,6.02,6.06,6.04,6.02,6.05,6.03,6.06,6.04,6.02,6.05,6.03,6.06,6.04,6.02,6.05];
var lower3Cdx2 = [7.80,7.88,7.98,8.06,8.14,8.24,8.40,8.52,8.60,8.70,8.78,8.90,8.98,9.04,9.12,9.26,9.34,9.42,9.50,
                  8.06,8.18,8.28,8.42,8.50,8.60,8.68,8.76,8.86,8.94,9.02,9.10,9.16,9.24,9.32,9.40,9.48,
                  8.12,8.26,8.40,8.48,8.54,8.62,8.70,8.80,8.88,8.96,9.02,9.10,9.26,9.34,9.42];
var lower3Alcam = [5.94,5.93,5.95,5.92,5.94,5.92,5.95,5.93,5.91,5.94,5.92,5.95,5.93,5.91,5.94,5.92,5.95,5.93,5.91,
                   5.83,5.84,5.82,5.85,5.83,5.81,5.84,5.82,5.85,5.83,5.81,5.84,5.82,5.85,5.83,5.81,5.84,
                   5.72,5.73,5.71,5.74,5.72,5.70,5.73,5.71,5.74,5.72,5.70,5.73,5.71,5.74,5.72];
var lower4Cdx2 = [8.29,8.35,8.43,8.49,8.55,8.63,8.70,8.78,8.88,8.95,9.03,9.10,9.18,9.26,9.34,9.42,
                  8.30,8.36,8.42,8.50,8.58,8.64,8.70,8.76,8.82,8.88,8.95,9.02,9.09,9.18,9.26,9.34,
                  8.20,8.28,8.36,8.44,8.52,8.58,8.66,8.74,8.82,8.90,9.00,9.08,9.16,9.22,9.34,
                  8.36,8.42,8.50,8.58,8.68,8.72,8.84,8.90,9.04,9.10,9.20,9.36];
var lower4Alcam = [5.60,5.58,5.61,5.57,5.60,5.58,5.61,5.57,5.60,5.58,5.61,5.57,5.60,5.58,5.61,5.57,
                   5.45,5.43,5.46,5.42,5.45,5.43,5.41,5.44,5.46,5.42,5.45,5.43,5.41,5.44,5.46,5.42,
                   5.25,5.27,5.24,5.26,5.22,5.25,5.27,5.24,5.26,5.22,5.25,5.23,5.27,5.24,5.26,
                   5.08,5.06,5.09,5.05,5.08,5.05,5.09,5.07,5.10,5.05,5.08,5.06];

var cdx2Values = [].concat(outlierCdx2, upperCdx2, row76Cdx2, row75Cdx2, row74Cdx2, row73Cdx2, row72Cdx2, row71Cdx2, row70Cdx2, row69Cdx2,
  row68Cdx2, row67Cdx2, row66Cdx2, row65Cdx2, row64Cdx2, row63Cdx2, row62Cdx2, row61Cdx2, row60Cdx2, row59Cdx2, row58Cdx2, row57Cdx2,
  row55Cdx2, row53Cdx2, row51Cdx2, core1Cdx2, core2Cdx2, core3Cdx2, core4Cdx2, core5Cdx2, core6Cdx2, lower1Cdx2, lower2Cdx2, lower3Cdx2, lower4Cdx2);
var alcamValues = [].concat(outlierAlcam, upperAlcam, row76Alcam, row75Alcam, row74Alcam, row73Alcam, row72Alcam, row71Alcam, row70Alcam, row69Alcam,
  row68Alcam, row67Alcam, row66Alcam, row65Alcam, row64Alcam, row63Alcam, row62Alcam, row61Alcam, row60Alcam, row59Alcam, row58Alcam, row57Alcam,
  row55Alcam, row53Alcam, row51Alcam, core1Alcam, core2Alcam, core3Alcam, core4Alcam, core5Alcam, core6Alcam, lower1Alcam, lower2Alcam, lower3Alcam, lower4Alcam);

// fat plus marker, same as the dots of the original
function makeMarker() {
  var c = document.createElement('canvas');
  c.width = 7;
  c.height = 7;
  var m = c.getContext('2d');
  m.fillStyle = '#6f6aae';
  m.fillRect(2, 0, 3, 7);
  m.fillRect(0, 2, 7, 3);
  m.fillRect(1, 1, 5, 5);
  return c;
}

function zip(xs, ys) {
  return xs.map(function(x, i) { return { x: x, y: ys[i] }; });
}

var lineDatasets = [];
thresholdCdx2.forEach(function(v) {
  lineDatasets.push({ data: zip([v, v], [yMin, yMax]), showLine: true, pointRadius: 0, borderColor: '#333', borderWidth: 1.2, order: 2 });
});
thresholdAlcam.forEach(function(v) {
  lineDatasets.push({ data: zip([xMin, xMax], [v, v]), showLine: true, pointRadius: 0, borderColor: '#333', borderWidth: 1.2, order: 2 });
});

// inward ticks on all four sides and the frame
var framePlugin = {
  id: 'frame',
  afterDatasetsDraw: function(chart) {
    var ctx = chart.ctx, a = chart.chartArea, sx = chart.scales.x, sy = chart.scales.y;
    ctx.save();
    ctx.strokeStyle = '#222';
    ctx.lineWidth = 1;
    ctx.beginPath();
    sx.ticks.forEach(function(t) {
      var p = Math.round(sx.getPixelForValue(t.value)) + 0.5;
      ctx.moveTo(p, a.top); ctx.lineTo(p, a.top + 5);
      ctx.moveTo(p, a.bottom); ctx.lineTo(p, a.bottom - 5);
    });
    sy.ticks.forEach(function(t) {
      var p = Math.round(sy.getPixelForValue(t.value)) + 0.5;
      ctx.moveTo(a.left, p); ctx.lineTo(a.left + 5, p);
      ctx.moveTo(a.right, p); ctx.lineTo(a.right - 5, p);
    });
    ctx.stroke();
    ctx.lineWidth = 2.5;
    ctx.strokeRect(a.left, a.top, a.right - a.left, a.bottom - a.top);
    ctx.restore();
  }
};

new Chart(document.getElementById('plot').getContext('2d'), {
  type: 'scatter',
  data: {
    datasets: [
      { data: zip(cdx2Values, alcamValues), pointStyle: makeMarker(), order: 3 }
    ].concat(lineDatasets, [
      { data: zip(sparsityBoxCdx2, sparsityBoxAlcam), showLine: true, pointRadius: 0, borderColor: '#231f20', borderWidth: 4, clip: false, order: 1 }
    ])
  },
  options: {
    responsive: false,
    animation: false,
    events: [],
    layout: { padding: { left: 4, top: 100, right: 233, bottom: 107 } },
    plugins: { legend: { display: false }, tooltip: { enabled: false } },
    scales: {
      x: {
        type: 'linear',
        min: xMin,
        max: xMax,
        grid: { display: false, drawTicks: false },
        border: { display: false },
        afterBuildTicks: function(s) { s.ticks = xTicks.map(function(v) { return { value: v }; }); },
        afterFit: function(s) { s.height = 57; },
        ticks: { padding: 5, maxRotation: 0, color: '#222', font: { family: 'DejaVu Sans', size: 17 } },
        title: { display: true, text: 'CDX2 : 206387_at', color: '#231f20', padding: 0, font: { family: 'Liberation Sans', weight: 'bold', size: 27 } }
      },
      y: {
        type: 'linear',
        min: yMin,
        max: yMax,
        grid: { display: false, drawTicks: false },
        border: { display: false },
        afterBuildTicks: function(s) { s.ticks = yTicks.map(function(v) { return { value: v }; }); },
        afterFit: function(s) { s.width = 91; },
        ticks: { padding: 5, color: '#222', font: { family: 'DejaVu Sans', size: 17 } }
      }
    }
  },
  plugins: [framePlugin]
});
</script>
</body>
</html>
